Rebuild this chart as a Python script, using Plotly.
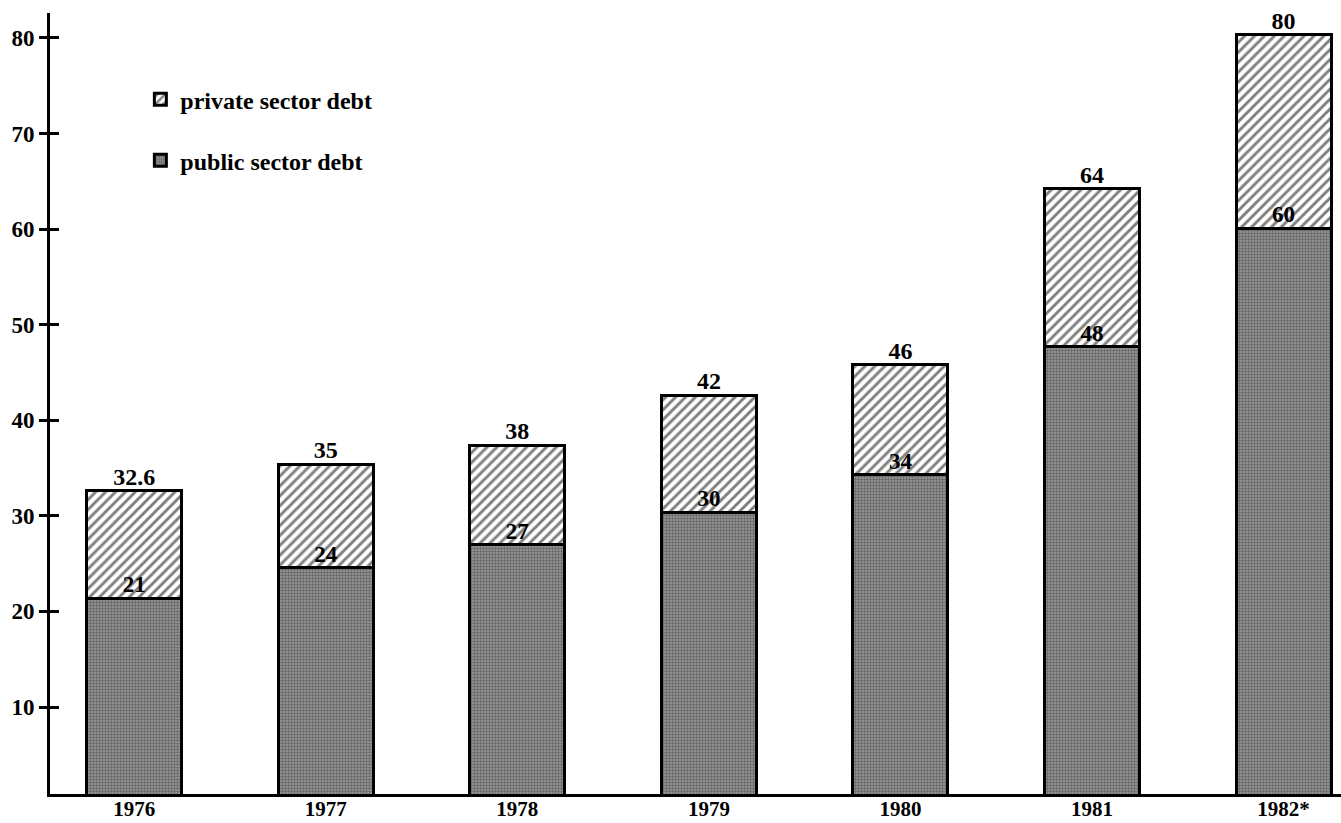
import plotly.graph_objects as go

years = ["1976", "1977", "1978", "1979", "1980", "1981", "1982*"]
public_debt = [21.4, 24.6, 27.0, 30.4, 34.3, 47.7, 60.1]
total_debt = [32.6, 35.4, 37.4, 42.6, 45.8, 64.2, 80.3]
private_debt = [round(t - p, 2) for t, p in zip(total_debt, public_debt)]
public_labels = ["21", "24", "27", "30", "34", "48", "60"]
total_labels = ["32.6", "35", "38", "42", "46", "64", "80"]
y_ticks = [10, 20, 30, 40, 50, 60, 70, 80]

xpos = list(range(len(years)))
FONT = "Liberation Serif"

fig = go.Figure()
fig.add_trace(go.Bar(
    x=xpos, y=public_debt, name="public sector debt", width=0.496,
    marker=dict(color="#8a8a8a", line=dict(color="black", width=3),
                pattern=dict(shape=".", fgcolor="#2a2a2a", bgcolor="#9c9c9c",
                             size=3, solidity=0.5)),
    legendgroup="pub", legendrank=2, hoverinfo="skip",
))
fig.add_trace(go.Bar(
    x=xpos, y=private_debt, name="private sector debt", width=0.496,
    marker=dict(color="white", line=dict(color="black", width=3),
                pattern=dict(shape="/", fgcolor="black", bgcolor="white",
                             size=7, solidity=0.42)),
    legendgroup="priv", legendrank=1, hoverinfo="skip",
))
fig.add_trace(go.Scatter(
    x=xpos, y=public_debt, mode="text", text=public_labels,
    textposition="top center", showlegend=False, cliponaxis=False,
    textfont=dict(family=FONT, size=23, color="black", weight="bold"),
    hoverinfo="skip",
))
fig.add_trace(go.Scatter(
    x=xpos, y=total_debt, mode="text", text=total_labels,
    textposition="top center", showlegend=False, cliponaxis=False,
    textfont=dict(family=FONT, size=24, color="black", weight="bold"),
    hoverinfo="skip",
))
# overlay axis only for the inner half of the crossing tick marks
fig.add_trace(go.Scatter(x=[None], y=[None], yaxis="y2", showlegend=False,
                         hoverinfo="skip"))

fig.update_layout(
    width=1341, height=823,
    margin=dict(l=50, r=0, t=13, b=29, autoexpand=False),
    paper_bgcolor="white", plot_bgcolor="white",
    barmode="stack",
    showlegend=True,
    legend=dict(x=0.07, y=0.918, xanchor="left", yanchor="top",
                traceorder="grouped", tracegroupgap=27,
                font=dict(family=FONT, size=24, color="black", weight="bold"),
                bgcolor="rgba(0,0,0,0)"),
    xaxis=dict(range=[-0.44, 6.3], tickmode="array", tickvals=xpos,
               ticktext=years, showgrid=False, zeroline=False,
               showline=True, linecolor="black", linewidth=3, ticks="",
               ticklabelstandoff=-6,
               tickfont=dict(family=FONT, size=21, color="black", weight="bold")),
    yaxis=dict(range=[0.9, 82.6], tickmode="array", tickvals=y_ticks,
               showgrid=False, zeroline=False, showline=True,
               linecolor="black", linewidth=3, ticks="outside", ticklen=8,
               tickwidth=3, tickcolor="black",
               tickfont=dict(family=FONT, size=23, color="black", weight="bold")),
    yaxis2=dict(range=[0.9, 82.6], overlaying="y", side="left",
                tickmode="array", tickvals=y_ticks, showticklabels=False,
                showgrid=False, zeroline=False, showline=False,
                ticks="inside", ticklen=9, tickwidth=3, tickcolor="black"),
)

fig.write_html("out.html", config={"displayModeBar": False},
               post_script="document.body.style.margin='0';document.body.style.overflow='hidden';")
